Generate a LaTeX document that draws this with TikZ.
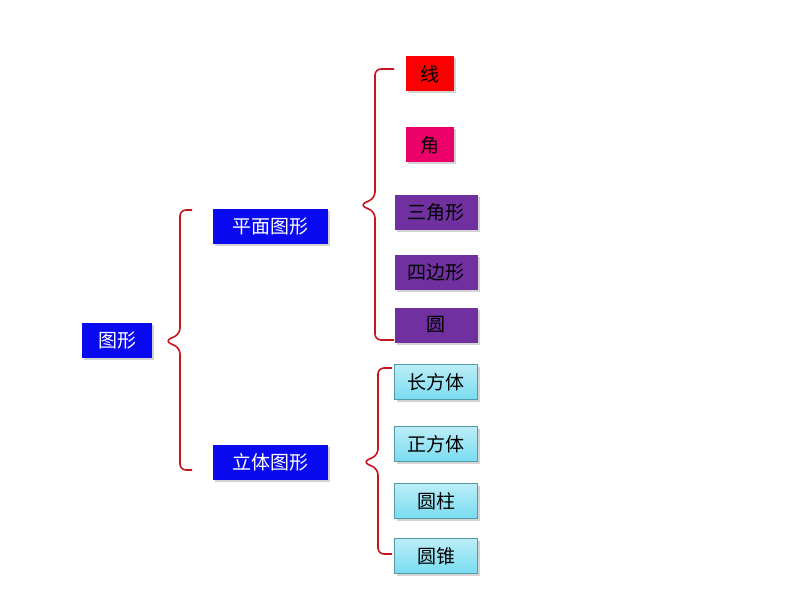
\documentclass[tikz,border=0pt]{standalone}
\usepackage{fontspec}
\setmainfont{Noto Sans CJK SC}
\usetikzlibrary{shadows}
\definecolor{boxblue}{RGB}{10,10,240}
\definecolor{boxred}{RGB}{250,0,0}
\definecolor{boxpink}{RGB}{235,0,105}
\definecolor{boxpurple}{RGB}{112,48,160}
\definecolor{boxcyan}{RGB}{120,220,240}
\definecolor{bracered}{RGB}{200,20,30}
\tikzset{
  item/.style={minimum height=35pt, inner sep=0pt, font=\fontsize{19}{22}\selectfont,
    drop shadow={shadow xshift=2pt, shadow yshift=-2pt, opacity=0.35}},
  bluebox/.style={item, fill=boxblue, text=white, minimum width=115pt},
  smallbox/.style={item, minimum width=48pt},
  purplebox/.style={item, fill=boxpurple, text=black, minimum width=83pt},
  cyanbox/.style={item, top color=boxcyan!50, bottom color=boxcyan, draw=boxcyan!70!black, text=black, minimum width=83pt},
  bracket/.style={draw=bracered, line width=1.6pt, rounded corners=6pt}
}
\begin{document}
\begin{tikzpicture}[x=1pt,y=-1pt]
  \useasboundingbox (0,0) rectangle (794,596);
  % left column
  \node[bluebox, minimum width=70pt] (tuxing) at (117,340) {图形};
  \node[bluebox] (pingmian) at (270,226) {平面图形};
  \node[bluebox] (liti) at (270,462) {立体图形};
  % plane figures
  \node[smallbox, fill=boxred, text=black] (xian) at (430,74) {线};
  \node[smallbox, fill=boxpink, text=black] (jiao) at (430,145) {角};
  \node[purplebox] (sanjiao) at (436,212) {三角形};
  \node[purplebox] (sibian) at (436,272) {四边形};
  \node[purplebox] (yuan) at (436,325) {圆};
  % solid figures
  \node[cyanbox] (changfang) at (436,382) {长方体};
  \node[cyanbox] (zhengfang) at (436,444) {正方体};
  \node[cyanbox] (yuanzhu) at (436,501) {圆柱};
  \node[cyanbox] (yuanzhui) at (436,556) {圆锥};
  % brackets
  \draw[bracket] (192,210) -- (180,210) -- (180,334) -- (165,341) -- (180,348) -- (180,470) -- (192,470);
  \draw[bracket] (394,69) -- (375,69) -- (375,198) -- (360,205) -- (375,212) -- (375,340) -- (394,340);
  \draw[bracket] (392,368) -- (378,368) -- (378,455) -- (363,462) -- (378,469) -- (378,554) -- (392,554);
\end{tikzpicture}
\end{document}
